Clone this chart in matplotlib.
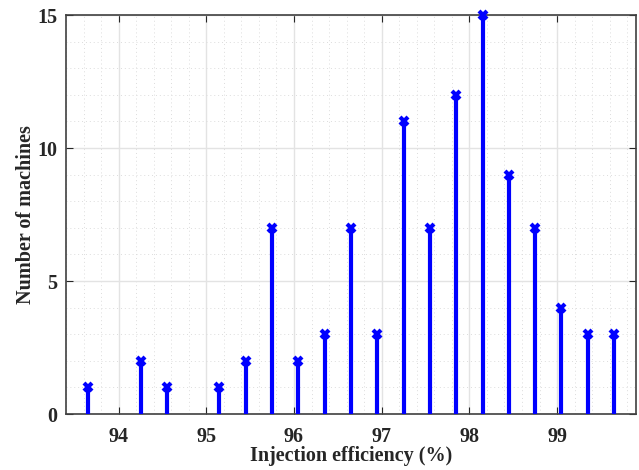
import numpy as np
import matplotlib.pyplot as plt
from matplotlib.ticker import MultipleLocator

# Histogram of injection efficiency (bin centres, counts)
efficiency = [93.65, 94.25, 94.55, 95.15, 95.45, 95.75, 96.05, 96.35, 96.65, 96.95,
              97.25, 97.55, 97.85, 98.15, 98.45, 98.75, 99.05, 99.35, 99.65]
machines = [1, 2, 1, 1, 2, 7, 2, 3, 7, 3, 11, 7, 12, 15, 9, 7, 4, 3, 3]
x_ticks = [94, 95, 96, 97, 98, 99]
y_ticks = [0, 5, 10, 15]

plt.rcParams['font.family'] = ['Liberation Serif', 'DejaVu Serif']
plt.rcParams['font.weight'] = 'bold'

fig = plt.figure(figsize=(6.39, 4.70), dpi=100)
ax = fig.add_axes([66 / 639, 1 - 414 / 470, (636 - 66) / 639, (414 - 15) / 470])

ax.vlines(efficiency, 0, machines, color='blue', linewidth=3, zorder=3)
ax.plot(efficiency, machines, linestyle='none', marker='x', color='blue',
        markersize=6, markeredgewidth=3, zorder=4, clip_on=False)

ax.set_xlim(93.4, 99.9)
ax.set_ylim(0, 15)
ax.set_xticks(x_ticks)
ax.set_yticks(y_ticks)
ax.xaxis.set_minor_locator(MultipleLocator(0.2))
ax.yaxis.set_minor_locator(MultipleLocator(1))

ax.grid(True, which='major', color='#e3e3e3', linewidth=1)
ax.grid(True, which='minor', color='#dcdcdc', linestyle=(0, (1, 3)), linewidth=0.7)
ax.set_axisbelow(True)

ax.tick_params(which='major', direction='in', top=True, right=True, length=5,
               color='#262626', labelsize=14.5, labelcolor='#262626', pad=6)
ax.tick_params(axis='x', which='major', pad=9)
ax.tick_params(which='minor', length=0)
for s in ax.spines.values():
    s.set_color('#404040')
    s.set_linewidth(1.2)

ax.set_xlabel('Injection efficiency (%)', fontsize=14.5, fontweight='bold', color='#262626', labelpad=0)
ax.set_ylabel('Number of machines', fontsize=14.5, fontweight='bold', color='#262626', labelpad=1)

fig.savefig('out.png', dpi=100)
